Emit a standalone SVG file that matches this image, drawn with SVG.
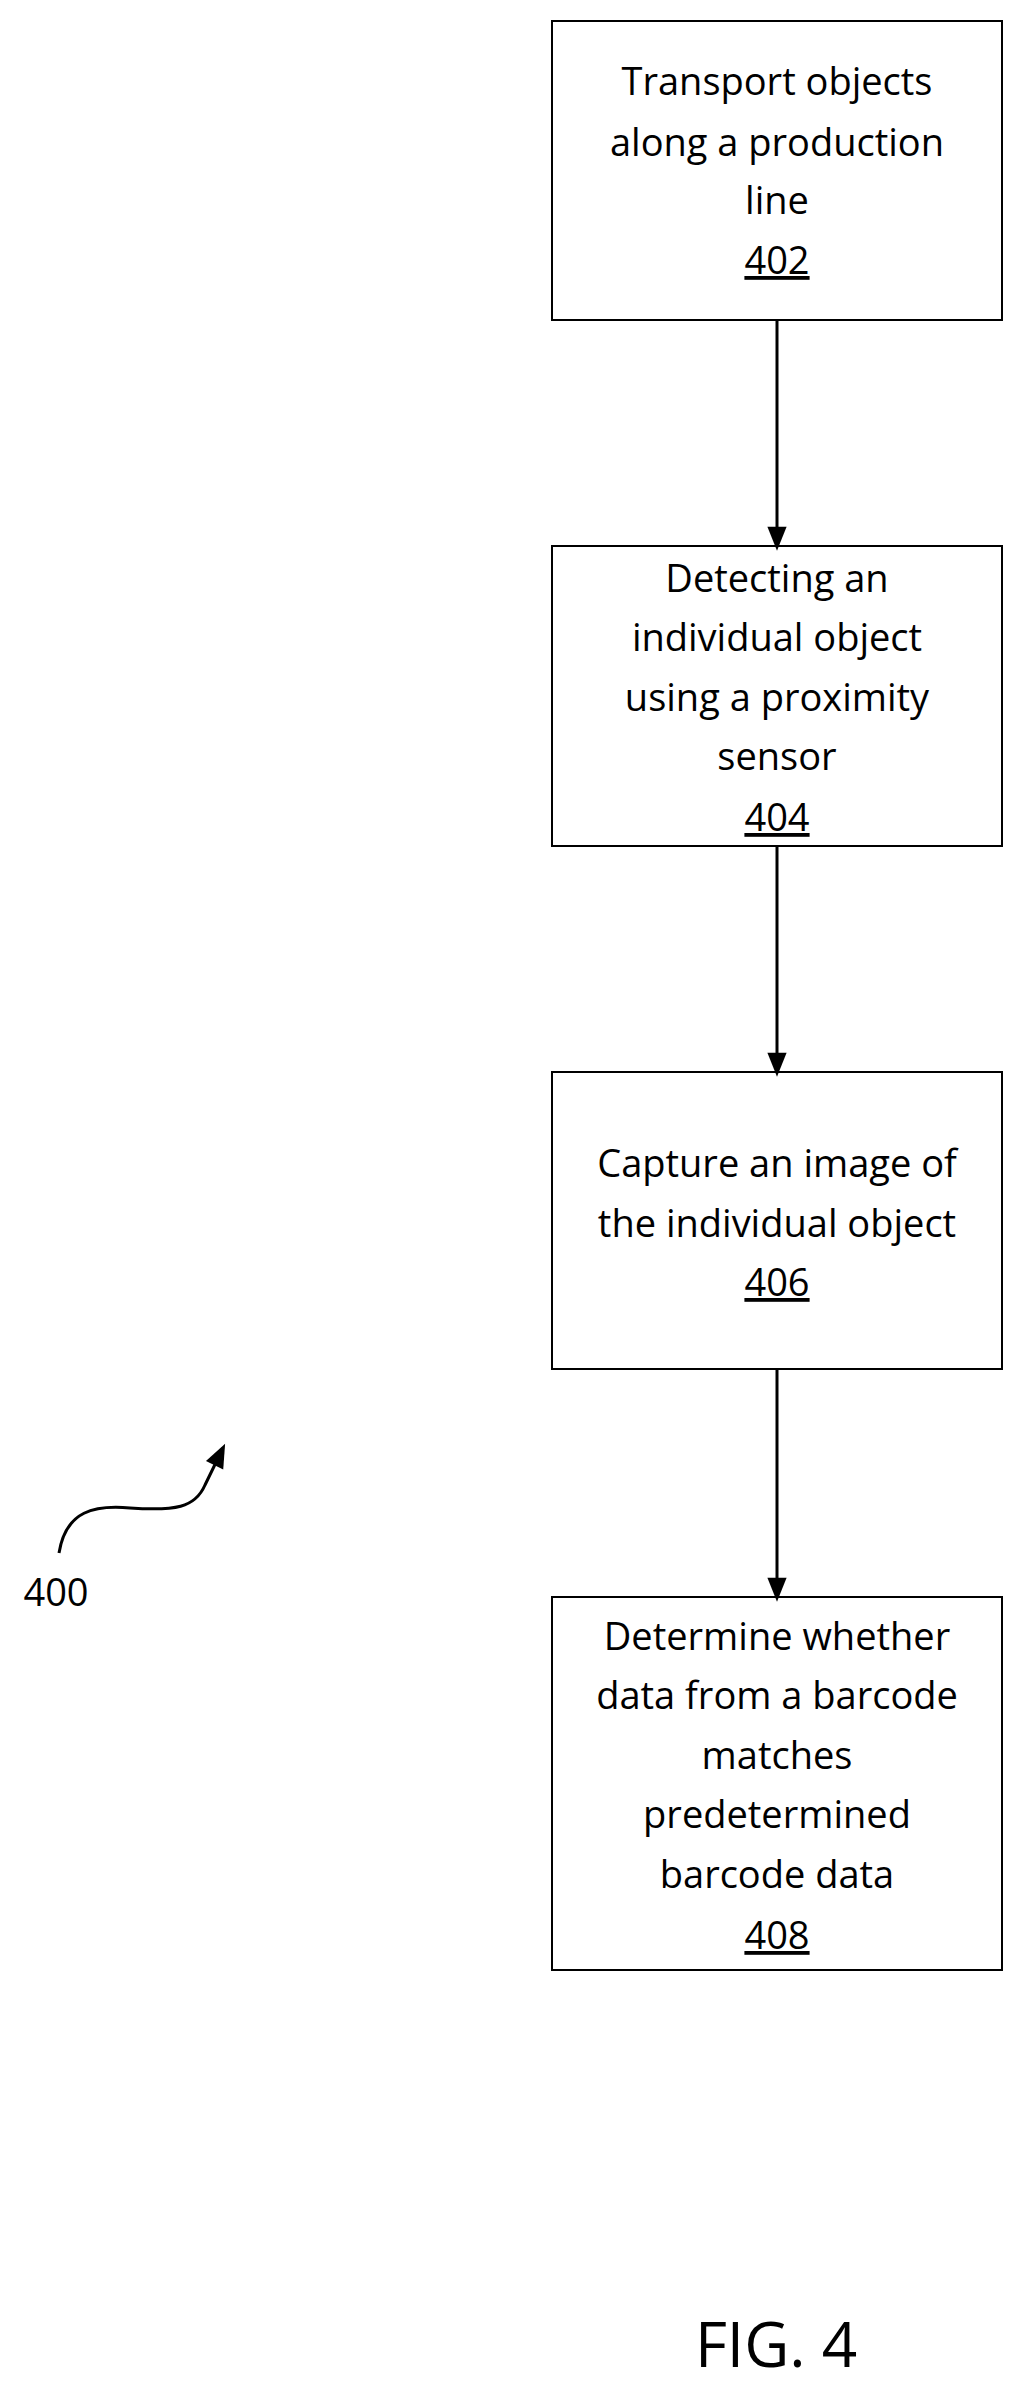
<svg xmlns="http://www.w3.org/2000/svg" width="1022" height="2390" viewBox="0 0 1022 2390">
<style>
.b{fill:#fff;stroke:#000;stroke-width:2}
text{font-family:"Open Sans","Liberation Sans",sans-serif;font-size:38px;fill:#000;text-anchor:middle}
.c{stroke:#000;stroke-width:3;fill:none}
</style>
<defs><marker id="a" markerWidth="10" markerHeight="12" refX="10" refY="6" orient="auto" markerUnits="userSpaceOnUse" viewBox="0 0 10 12"><path d="M0,0L10,6L0,12z"/></marker>
<marker id="h" viewBox="0 0 24 30" refX="24" refY="12" markerWidth="30" markerHeight="24" orient="auto" markerUnits="userSpaceOnUse"><path d="M0,0L30,12L0,24z"/></marker></defs>
<rect width="1022" height="2390" fill="#fff"/>
<g id="n402"><rect class="b" x="552" y="21" width="450" height="299"/>
<text x="777" y="95">Transport objects</text><text x="777" y="156">along a production</text><text x="777" y="214">line</text><text x="777" y="274" text-decoration="underline">402</text></g>
<g id="n404"><rect class="b" x="552" y="546" width="450" height="300"/>
<text x="777" y="592">Detecting an</text><text x="777" y="651">individual object</text><text x="777" y="711">using a proximity</text><text x="777" y="770">sensor</text><text x="777" y="831" text-decoration="underline">404</text></g>
<g id="n406"><rect class="b" x="552" y="1072" width="450" height="297"/>
<text x="777" y="1177">Capture an image of</text><text x="777" y="1237">the individual object</text><text x="777" y="1296" text-decoration="underline">406</text></g>
<g id="n408"><rect class="b" x="552" y="1597" width="450" height="373"/>
<text x="777" y="1650">Determine whether</text><text x="777" y="1709">data from a barcode</text><text x="777" y="1769">matches</text><text x="777" y="1828">predetermined</text><text x="777" y="1888">barcode data</text><text x="777" y="1949" text-decoration="underline">408</text></g>
<g id="connectors">
<line class="c" x1="777" y1="320" x2="777" y2="546" marker-end="url(#h)"/>
<line class="c" x1="777" y1="846" x2="777" y2="1072" marker-end="url(#h)"/>
<line class="c" x1="777" y1="1369" x2="777" y2="1597" marker-end="url(#h)"/>
<path class="c" d="M59,1553C66,1510 95,1505 130,1508C175,1511 195,1508 205,1485L223,1448" marker-end="url(#h)"/>
</g>
<g id="label400"><text x="56" y="1606">400</text></g>
<g id="fig"><text x="776" y="2367" style="font-size:62px">FIG. 4</text></g>
</svg>
